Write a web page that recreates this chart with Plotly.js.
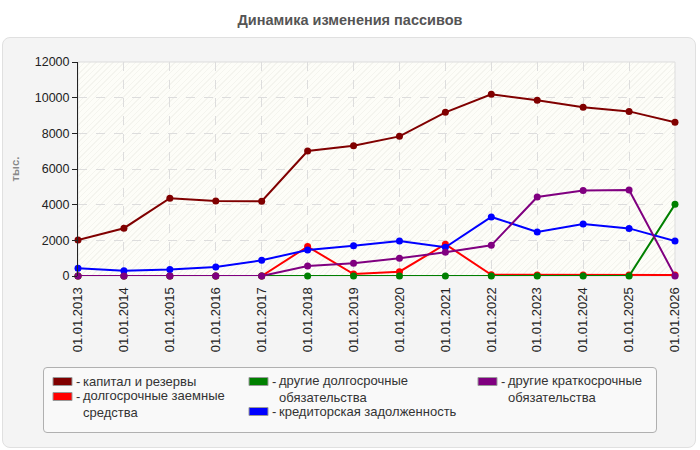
<!DOCTYPE html>
<html>
<head>
<meta charset="utf-8">
<script src="https://cdn.plot.ly/plotly-3.0.1.min.js"></script>
<style>
  html, body { margin: 0; padding: 0; background: #ffffff; }
  #panel { position: absolute; left: 2px; top: 37px; width: 694px; height: 411px;
           background: #f4f4f4; border: 1px solid #e0e0e0; border-radius: 8px; box-sizing: border-box; }
  #hatch { position: absolute; left: 78px; top: 62px; width: 597px; height: 214px;
           background-color: #fdfdf8;
           background-image: repeating-linear-gradient(-45deg, rgba(228,228,220,0.35) 0px, rgba(228,228,220,0.35) 1px, transparent 1px, transparent 4px); }
  #legbox { position: absolute; left: 43px; top: 367px; width: 614px; height: 66px;
            background: #f9f9f9; border: 1px solid #b0b0b0; border-radius: 4px; box-sizing: border-box; }
  #chart { position: absolute; left: 0; top: 0; width: 700px; height: 450px; }
</style>
</head>
<body>
<div id="panel"></div>
<div id="hatch"></div>
<div id="legbox"></div>
<div id="chart"></div>
<script>
// ---- data ----
const dates = ['01.01.2013','01.01.2014','01.01.2015','01.01.2016','01.01.2017','01.01.2018','01.01.2019',
               '01.01.2020','01.01.2021','01.01.2022','01.01.2023','01.01.2024','01.01.2025','01.01.2026'];
const kapital      = [2020, 2680, 4360, 4200, 4190, 7010, 7310, 7830, 9180, 10190, 9850, 9460, 9230, 8620];
const dolgZaem     = [0, 0, 0, 0, 0, 1650, 110, 240, 1780, 70, 60, 60, 60, 60];
const drugieDolg   = [0, 0, 0, 0, 0, 0, 0, 0, 0, 0, 0, 0, 0, 4020];
const kreditorka   = [430, 300, 370, 500, 880, 1460, 1700, 1960, 1610, 3310, 2470, 2920, 2670, 1960];
const drugieKratk  = [0, 0, 0, 0, 0, 560, 710, 990, 1330, 1720, 4430, 4800, 4820, 0];

const seriesNames  = ['капитал и резервы', 'долгосрочные заемные средства', 'другие долгосрочные обязательства',
                      'кредиторская задолженность', 'другие краткосрочные обязательства'];
const legendLabels = ['капитал и резервы', 'долгосрочные заемные<br>средства', 'другие долгосрочные<br>обязательства',
                      'кредиторская задолженность', 'другие краткосрочные<br>обязательства'];
const seriesValues = [kapital, dolgZaem, drugieDolg, kreditorka, drugieKratk];
const colors       = ['#800000', '#ff0000', '#008000', '#0000ff', '#800080'];

// ---- geometry of plot area (px) ----
const L = 78, R = 675, T = 62, B = 276;
const px2x = p => (p - L) / (R - L);
const px2y = p => (B - p) / (B - T);
const FONT = 'Liberation Sans, Arial, sans-serif';

const traces = seriesValues.map((vals, i) => ({
  type: 'scatter', mode: 'lines+markers', name: seriesNames[i],
  x: dates, y: vals,
  line: { color: colors[i], width: 2 },
  marker: { color: colors[i], size: 7 },
  cliponaxis: false, showlegend: false,
  hoverinfo: 'x+y+name'
}));

// custom legend (column-major like reference)
const legendPos = [[53, 0], [53, 1], [249, 0], [249, 2], [478, 0]];
const rowY = [381.5, 396.5, 411.5];
const shapes = [];
const annotations = [];
legendPos.forEach((p, i) => {
  const sx = p[0], cy = rowY[p[1]];
  shapes.push({ type: 'rect', xref: 'paper', yref: 'paper',
                x0: px2x(sx), x1: px2x(sx + 19), y0: px2y(cy + 4), y1: px2y(cy - 4),
                fillcolor: colors[i], line: { color: '#999999', width: 1 } });
  annotations.push({ xref: 'paper', yref: 'paper', x: px2x(sx + 21), y: px2y(cy), text: '-',
                     showarrow: false, xanchor: 'left', yanchor: 'middle',
                     font: { family: FONT, size: 13, color: '#333' } });
  const nLines = legendLabels[i].split('<br>').length;
  annotations.push({ xref: 'paper', yref: 'paper', x: px2x(sx + 28), y: px2y(cy + (nLines - 1) * 7.5),
                     text: legendLabels[i], align: 'left',
                     showarrow: false, xanchor: 'left', yanchor: 'middle',
                     font: { family: FONT, size: 13, color: '#333' } });
});
shapes.push({ type: 'rect', xref: 'paper', yref: 'paper', x0: 0, x1: 1, y0: 0, y1: 1,
              line: { color: '#dddddd', width: 1 }, layer: 'below' });

const layout = {
  width: 700, height: 450,
  margin: { l: L, r: 700 - R, t: T, b: 450 - B },
  paper_bgcolor: 'rgba(0,0,0,0)', plot_bgcolor: 'rgba(0,0,0,0)',
  font: { family: FONT, size: 12, color: '#222' },
  title: { text: 'Динамика изменения пассивов', x: 0.5, xanchor: 'center', y: 1 - 20 / 450, yanchor: 'middle',
           font: { family: FONT, size: 14.5, color: '#555', weight: 'bold' } },
  xaxis: {
    type: 'category', range: [0, dates.length - 1],
    tickangle: -90, tickfont: { size: 13, color: '#222' },
    showgrid: true, gridcolor: '#dddddd', griddash: 'dash', gridwidth: 1,
    showline: false, zeroline: false, ticks: 'outside', ticklen: 5, tickcolor: 'rgba(0,0,0,0)'
  },
  yaxis: {
    range: [0, 12000], tickvals: [0, 2000, 4000, 6000, 8000, 10000, 12000],
    tickformat: 'd', tickfont: { size: 12.5, color: '#222' },
    showgrid: true, gridcolor: '#dddddd', griddash: 'dash', gridwidth: 1,
    showline: true, linecolor: '#222', linewidth: 1,
    ticks: 'outside', ticklen: 5, tickcolor: '#222', zeroline: false,
    title: { text: 'тыс.', standoff: 12,
             font: { family: FONT, size: 11.5, color: '#888', weight: 'bold' } }
  },
  shapes: shapes, annotations: annotations,
  showlegend: false
};

Plotly.newPlot('chart', traces, layout, { displayModeBar: false, staticPlot: true });
</script>
</body>
</html>
